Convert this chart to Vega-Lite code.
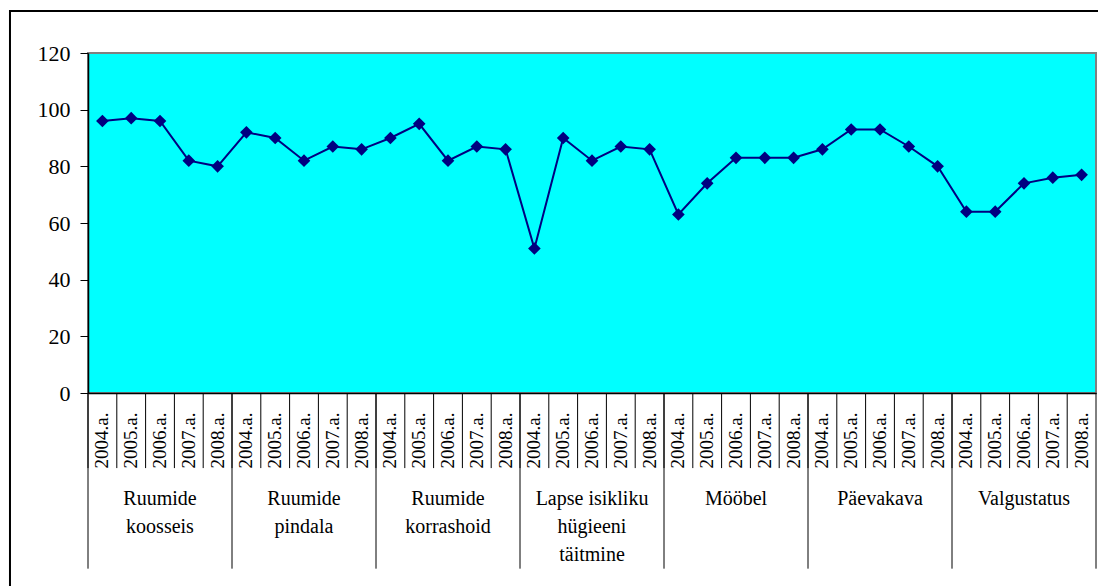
{
  "$schema": "https://vega.github.io/schema/vega-lite/v6.json",
  "width": 1008,
  "height": 340,
  "autosize": "none",
  "padding": {"left": 88, "top": 53, "right": 2, "bottom": 193},
  "background": "white",
  "config": {
    "font": "Liberation Serif",
    "axis": {"labelFont": "Liberation Serif"},
    "text": {"font": "Liberation Serif"},
    "view": {"fill": "#00FFFF", "stroke": "#808080", "strokeWidth": 2}
  },
  "datasets": {
    "andmed": [
      {"naitaja": "Ruumide koosseis", "aasta": "2004.a.", "vaartus": 96},
      {"naitaja": "Ruumide koosseis", "aasta": "2005.a.", "vaartus": 97},
      {"naitaja": "Ruumide koosseis", "aasta": "2006.a.", "vaartus": 96},
      {"naitaja": "Ruumide koosseis", "aasta": "2007.a.", "vaartus": 82},
      {"naitaja": "Ruumide koosseis", "aasta": "2008.a.", "vaartus": 80},
      {"naitaja": "Ruumide pindala", "aasta": "2004.a.", "vaartus": 92},
      {"naitaja": "Ruumide pindala", "aasta": "2005.a.", "vaartus": 90},
      {"naitaja": "Ruumide pindala", "aasta": "2006.a.", "vaartus": 82},
      {"naitaja": "Ruumide pindala", "aasta": "2007.a.", "vaartus": 87},
      {"naitaja": "Ruumide pindala", "aasta": "2008.a.", "vaartus": 86},
      {"naitaja": "Ruumide korrashoid", "aasta": "2004.a.", "vaartus": 90},
      {"naitaja": "Ruumide korrashoid", "aasta": "2005.a.", "vaartus": 95},
      {"naitaja": "Ruumide korrashoid", "aasta": "2006.a.", "vaartus": 82},
      {"naitaja": "Ruumide korrashoid", "aasta": "2007.a.", "vaartus": 87},
      {"naitaja": "Ruumide korrashoid", "aasta": "2008.a.", "vaartus": 86},
      {"naitaja": "Lapse isikliku hügieeni täitmine", "aasta": "2004.a.", "vaartus": 51},
      {"naitaja": "Lapse isikliku hügieeni täitmine", "aasta": "2005.a.", "vaartus": 90},
      {"naitaja": "Lapse isikliku hügieeni täitmine", "aasta": "2006.a.", "vaartus": 82},
      {"naitaja": "Lapse isikliku hügieeni täitmine", "aasta": "2007.a.", "vaartus": 87},
      {"naitaja": "Lapse isikliku hügieeni täitmine", "aasta": "2008.a.", "vaartus": 86},
      {"naitaja": "Mööbel", "aasta": "2004.a.", "vaartus": 63},
      {"naitaja": "Mööbel", "aasta": "2005.a.", "vaartus": 74},
      {"naitaja": "Mööbel", "aasta": "2006.a.", "vaartus": 83},
      {"naitaja": "Mööbel", "aasta": "2007.a.", "vaartus": 83},
      {"naitaja": "Mööbel", "aasta": "2008.a.", "vaartus": 83},
      {"naitaja": "Päevakava", "aasta": "2004.a.", "vaartus": 86},
      {"naitaja": "Päevakava", "aasta": "2005.a.", "vaartus": 93},
      {"naitaja": "Päevakava", "aasta": "2006.a.", "vaartus": 93},
      {"naitaja": "Päevakava", "aasta": "2007.a.", "vaartus": 87},
      {"naitaja": "Päevakava", "aasta": "2008.a.", "vaartus": 80},
      {"naitaja": "Valgustatus", "aasta": "2004.a.", "vaartus": 64},
      {"naitaja": "Valgustatus", "aasta": "2005.a.", "vaartus": 64},
      {"naitaja": "Valgustatus", "aasta": "2006.a.", "vaartus": 74},
      {"naitaja": "Valgustatus", "aasta": "2007.a.", "vaartus": 76},
      {"naitaja": "Valgustatus", "aasta": "2008.a.", "vaartus": 77}
    ],
    "grupid": [
      {"naitaja": "Ruumide koosseis", "silt": "Ruumide\nkoosseis"},
      {"naitaja": "Ruumide pindala", "silt": "Ruumide\npindala"},
      {"naitaja": "Ruumide korrashoid", "silt": "Ruumide\nkorrashoid"},
      {"naitaja": "Lapse isikliku hügieeni täitmine", "silt": "Lapse isikliku\nhügieeni\ntäitmine"},
      {"naitaja": "Mööbel", "silt": "Mööbel"},
      {"naitaja": "Päevakava", "silt": "Päevakava"},
      {"naitaja": "Valgustatus", "silt": "Valgustatus"}
    ]
  },
  "resolve": {"scale": {"x": "independent"}},
  "layer": [
    {
      "data": {"values": [{}]},
      "mark": {"type": "rect", "fill": "transparent", "stroke": "black", "strokeWidth": 2, "clip": false},
      "encoding": {
        "x": {"datum": -0.0774, "type": "quantitative", "scale": {"domain": [0, 1]}, "axis": null},
        "x2": {"datum": 1.2},
        "y": {"datum": 134.8, "type": "quantitative", "scale": {"domain": [0, 120]}},
        "y2": {"datum": -80}
      }
    },
    {
      "data": {"name": "andmed"},
      "transform": [
        {"calculate": "datum.naitaja + '|' + datum.aasta", "as": "key"}
      ],
      "resolve": {"scale": {"x": "shared"}, "axis": {"x": "shared"}},
      "layer": [
        {
          "encoding": {
            "x": {
              "field": "key",
              "type": "nominal",
              "sort": null,
              "scale": {"paddingInner": 0, "paddingOuter": 0},
              "axis": {
                "title": null,
                "labelExpr": "split(datum.label, '|')[1]",
                "labelAngle": -90,
                "labelFont": "Liberation Serif",
                "labelFontSize": 19,
                "labelColor": "black",
                "labelPadding": 19,
                "labelOverlap": false,
                "labelBound": false,
                "ticks": false,
                "domainColor": "black",
                "domainWidth": 1.5
              }
            },
            "y": {
              "field": "vaartus",
              "type": "quantitative",
              "scale": {"domain": [0, 120], "nice": false},
              "axis": {
                "title": null,
                "grid": false,
                "values": [0, 20, 40, 60, 80, 100, 120],
                "tickSize": 8,
                "tickColor": "black",
                "domainColor": "black",
                "domainWidth": 1.5,
                "labelFont": "Liberation Serif",
                "labelFontSize": 22,
                "labelColor": "black",
                "labelPadding": 10
              }
            }
          },
          "layer": [
            {"mark": {"type": "line", "color": "#000080", "strokeWidth": 2}},
            {"mark": {"type": "point", "shape": "diamond", "filled": true, "color": "#000080", "size": 160, "opacity": 1}}
          ]
        },
        {
          "mark": {"type": "rule", "color": "black", "strokeWidth": 1, "clip": false},
          "encoding": {
            "x": {"field": "key", "type": "nominal", "sort": null, "bandPosition": 0},
            "y": {"datum": 0},
            "y2": {"datum": -26.5}
          }
        },
        {
          "transform": [{"filter": "datum.aasta == '2004.a.'"}],
          "mark": {"type": "rule", "color": "black", "strokeWidth": 1, "clip": false},
          "encoding": {
            "x": {"field": "key", "type": "nominal", "sort": null, "bandPosition": 0},
            "y": {"datum": 0},
            "y2": {"datum": -62}
          }
        },
        {
          "transform": [{"filter": "datum.aasta == '2008.a.' && datum.naitaja == 'Valgustatus'"}],
          "mark": {"type": "rule", "color": "black", "strokeWidth": 1, "clip": false},
          "encoding": {
            "x": {"field": "key", "type": "nominal", "sort": null, "bandPosition": 1},
            "y": {"datum": 0},
            "y2": {"datum": -62}
          }
        },
        {
          "transform": [
            {"filter": "datum.aasta == '2006.a.'"},
            {"lookup": "naitaja", "from": {"data": {"name": "grupid"}, "key": "naitaja", "fields": ["silt"]}}
          ],
          "mark": {"type": "text", "font": "Liberation Serif", "lineBreak": "\n", "fontSize": 20, "lineHeight": 28, "align": "center", "baseline": "alphabetic", "color": "black", "clip": false},
          "encoding": {
            "x": {"field": "key", "type": "nominal", "sort": null, "bandPosition": 0.5},
            "y": {"datum": -39.5},
            "text": {"field": "silt"}
          }
        }
      ]
    }
  ]
}
